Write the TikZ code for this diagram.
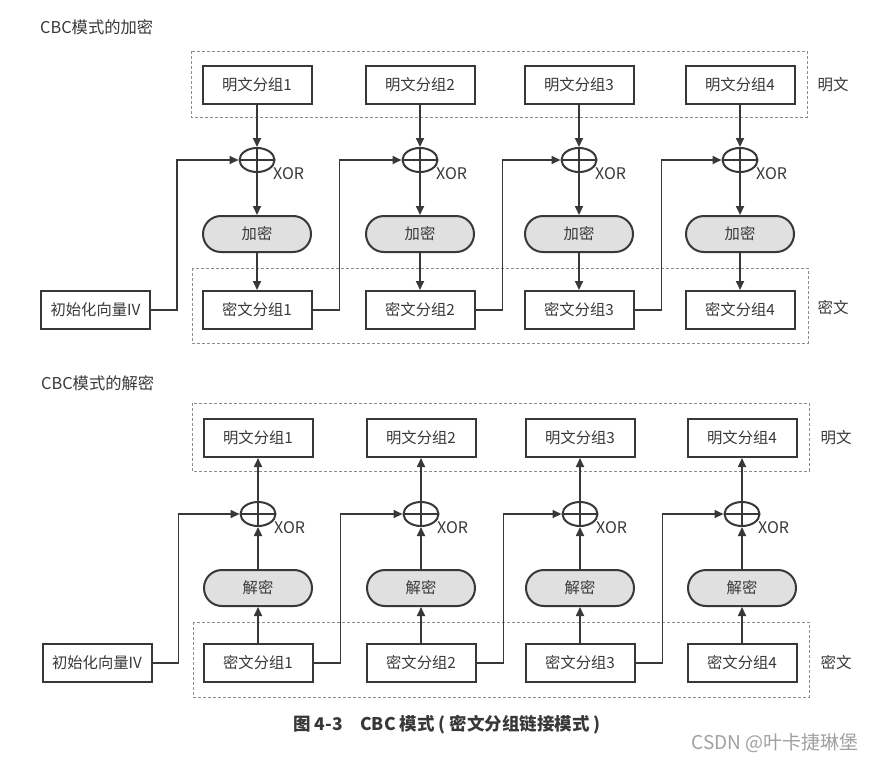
\documentclass[tikz,border=0pt]{standalone}
\usepackage{fontspec}
\setmainfont{Noto Sans CJK SC}
\usetikzlibrary{arrows.meta,shapes.geometric,calc}
\definecolor{ink}{HTML}{383838}
\definecolor{encfill}{HTML}{E0E0E0}
\definecolor{dashgray}{HTML}{8C8C8C}
\definecolor{wmgray}{HTML}{A0A0A0}
\begin{document}
\begin{tikzpicture}[x=1pt,y=-1pt,
  blk/.style={draw=ink,line width=2pt,minimum width=109pt,minimum height=38pt,inner sep=0pt,text=ink,font=\fontsize{15.3}{17}\selectfont},
  crypt/.style={draw=ink,line width=2pt,fill=encfill,rounded corners=17.9pt,minimum width=108pt,minimum height=36pt,inner sep=0pt,text=ink,font=\fontsize{15.3}{17}\selectfont},
  xorc/.style={ellipse,draw=ink,line width=2pt,minimum width=35pt,minimum height=24pt,inner sep=0pt,
    path picture={\draw[ink,line width=1.7pt] (path picture bounding box.north) -- (path picture bounding box.south)
      (path picture bounding box.west) -- (path picture bounding box.east);}},
  xorlbl/.style={text=ink,font=\fontsize{16}{18}\selectfont,inner sep=0pt,anchor=west},
  grp/.style={draw=dashgray,dash pattern=on 3pt off 2pt,line width=0.7pt},
  side/.style={text=ink,font=\fontsize{15.5}{17}\selectfont,inner sep=0pt},
  ttl/.style={text=ink,font=\fontsize{16.3}{18}\selectfont,inner sep=0pt,anchor=west},
  arr/.style={draw=ink,line width=1.7pt,-{Triangle[length=9pt,width=8pt]}},
]
\useasboundingbox (0,0) rectangle (877,761);

% ================= Encryption =================
\node[ttl] (t1) at (40,27) {CBC模式的加密};
\draw[grp] (191,51) rectangle (807,117);
\draw[grp] (192,268) rectangle (808,343);
\node[side] (lm1) at (833,85) {明文};
\node[side] (lc1) at (833,308) {密文};

\foreach \i/\x in {1/257,2/420,3/579,4/740}{
  \node[blk] (p\i) at (\x,85) {明文分组\i};
  \node[xorc] (x\i) at (\x,160) {};
  \node[xorlbl] (xl\i) at ($(x\i)+(16,14)$) {XOR};
  \node[crypt] (e\i) at (\x,234) {加密};
  \node[blk] (c\i) at (\x,310) {密文分组\i};
  \draw[arr] (p\i.south) -- (x\i.north);
  \draw[arr] (x\i.south) -- (e\i.north);
  \draw[arr] (e\i.south) -- (c\i.north);
}
\node[blk] (iv) at (95.5,310) {初始化向量IV};
\draw[arr] (iv.east) -- ++(26,0) |- (x1.west);
\draw[arr] (c1.east) -- ++(27,0) |- (x2.west);
\draw[arr] (c2.east) -- ++(27,0) |- (x3.west);
\draw[arr] (c3.east) -- ++(27,0) |- (x4.west);

% ================= Decryption =================
\node[ttl] (t2) at (41,383) {CBC模式的解密};
\draw[grp] (192,403) rectangle (809,471);
\draw[grp] (193,622) rectangle (809,697);
\node[side] (lm2) at (836,438) {明文};
\node[side] (lc2) at (836,663) {密文};

\foreach \i/\x in {1/258,2/421,3/580,4/742}{
  \node[blk] (P\i) at (\x,438) {明文分组\i};
  \node[xorc] (X\i) at (\x,514) {};
  \node[xorlbl] (XL\i) at ($(X\i)+(16,14)$) {XOR};
  \node[crypt] (D\i) at (\x,588) {解密};
  \node[blk] (C\i) at (\x,663) {密文分组\i};
  \draw[arr] (X\i.north) -- (P\i.south);
  \draw[arr] (D\i.north) -- (X\i.south);
  \draw[arr] (C\i.north) -- (D\i.south);
}
\node[blk] (IV) at (97,663) {初始化向量IV};
\draw[arr] (IV.east) -- ++(26,0) |- (X1.west);
\draw[arr] (C1.east) -- ++(27,0) |- (X2.west);
\draw[arr] (C2.east) -- ++(27,0) |- (X3.west);
\draw[arr] (C3.east) -- ++(27,0) |- (X4.west);

% ================= Caption =================
\node[text=ink,font=\fontsize{17.5}{19}\selectfont\bfseries,inner sep=0pt] (cap) at (447,725)
  {图 4-3\hspace{1em}CBC 模式 ( 密文分组链接模式 )};
\node[text=wmgray,font=\fontsize{19}{21}\selectfont,inner sep=0pt] (wm) at (775,743) {CSDN @叶卡捷琳堡};
\end{tikzpicture}
\end{document}
